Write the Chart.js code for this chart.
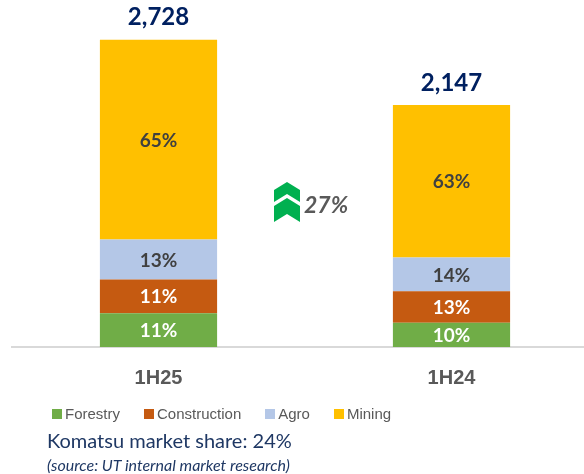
<!DOCTYPE html>
<html>
<head>
<meta charset="utf-8">
<script src="https://cdn.jsdelivr.net/npm/chart.js@4.4.1/dist/chart.umd.min.js"></script>
<style>
  html, body { margin:0; padding:0; background:#fff; }
  body { width:584px; height:474px; overflow:hidden; position:relative; }
  #wrap { position:absolute; left:0; top:0; width:600px; height:410px; }
  #legend { position:absolute; left:52px; top:405px; display:flex; gap:24px;
    font-family:"Liberation Sans", Arial, sans-serif; font-size:15px; color:#595959; }
  #legend .item { display:flex; align-items:center; }
  #legend .sw { width:10px; height:10px; margin-right:3px; }
  #share { position:absolute; left:47px; top:428px; font-family:Lato, "Open Sans", sans-serif;
    font-size:20px; color:#1F3864; white-space:nowrap; }
  #source { position:absolute; left:47px; top:455px; font-family:Lato, "Open Sans", sans-serif;
    font-style:italic; font-size:16px; color:#1F3864; white-space:nowrap; }
</style>
</head>
<body>
<div id="wrap"><canvas id="c" width="600" height="410"></canvas></div>
<div id="legend"></div>
<div id="share">Komatsu market share: 24%</div>
<div id="source">(source: UT internal market research)</div>
<script>
/* market chart */
const periods = ["1H25", "1H24"];
const segments = ["Forestry", "Construction", "Agro", "Mining"];
const forestry = [300, 215];
const construction = [300, 279];
const agro = [355, 301];
const mining = [1773, 1352];
const segColors = ["#70AD47", "#C55A11", "#B4C7E7", "#FFC000"];
const labelColors = ["#FFFFFF", "#FFFFFF", "#404040", "#404040"];
const growthLabel = "27%";

const series = [forestry, construction, agro, mining];
const totals = periods.map((p, i) => series.reduce((s, d) => s + d[i], 0));

// legend
const legendEl = document.getElementById("legend");
segments.forEach((s, i) => {
  const it = document.createElement("div");
  it.className = "item";
  it.innerHTML = `<span class="sw" style="background:${segColors[i]}"></span><span>${s}</span>`;
  legendEl.appendChild(it);
});

const labelsPlugin = {
  id: "segLabels",
  afterDatasetsDraw(chart){
    const ctx = chart.ctx;
    ctx.save();
    ctx.textAlign = "center";
    ctx.textBaseline = "middle";
    chart.data.datasets.forEach((ds, di) => {
      const meta = chart.getDatasetMeta(di);
      meta.data.forEach((bar, i) => {
        const pct = Math.round(ds.data[i] / totals[i] * 100) + "%";
        ctx.font = "bold 19px Lato, 'Open Sans', sans-serif";
        ctx.fillStyle = labelColors[di];
        ctx.fillText(pct, bar.x, (bar.y + bar.base) / 2 + 1);
      });
    });
    // totals
    const top = chart.getDatasetMeta(chart.data.datasets.length - 1);
    top.data.forEach((bar, i) => {
      ctx.font = "bold 24px Lato, 'Open Sans', sans-serif";
      ctx.fillStyle = "#002060";
      ctx.fillText(totals[i].toLocaleString("en-US"), bar.x, bar.y - 22);
    });
    // category captions
    const xs = chart.scales.x;
    ctx.font = "bold 20px 'Liberation Sans', Arial, sans-serif";
    ctx.fillStyle = "#595959";
    periods.forEach((p, i) => {
      ctx.fillText(p, xs.getPixelForValue(i), chart.chartArea.bottom + 31);
    });
    ctx.restore();
  }
};

const arrowPlugin = {
  id: "growthArrow",
  afterDraw(chart){
    const ctx = chart.ctx;
    const cx = (chart.scales.x.getPixelForValue(0) + chart.scales.x.getPixelForValue(1)) / 2 - 18;
    const y0 = 182;
    ctx.save();
    ctx.fillStyle = "#00B050";
    const chev = (t, h) => {
      ctx.beginPath();
      ctx.moveTo(cx, t);
      ctx.lineTo(cx + 13, t + 8);
      ctx.lineTo(cx + 13, t + 8 + h);
      ctx.lineTo(cx, t + h);
      ctx.lineTo(cx - 13, t + 8 + h);
      ctx.lineTo(cx - 13, t + 8);
      ctx.closePath();
      ctx.fill();
    };
    chev(y0, 12);
    chev(y0 + 16, 16);
    ctx.font = "italic bold 23px Lato, 'Open Sans', sans-serif";
    ctx.fillStyle = "#595959";
    ctx.textAlign = "left";
    ctx.textBaseline = "middle";
    ctx.fillText(growthLabel, cx + 17, 206);
    ctx.restore();
  }
};

new Chart(document.getElementById("c").getContext("2d"), {
  type: "bar",
  data: {
    labels: periods,
    datasets: segments.map((s, i) => ({
      label: s,
      data: series[i],
      backgroundColor: segColors[i],
      borderWidth: 0,
      barPercentage: 0.8,
      categoryPercentage: 0.5
    }))
  },
  options: {
    responsive: false,
    animation: false,
    devicePixelRatio: 1,
    layout: { padding: { top: 9, left: 12, right: 2, bottom: 55 } },
    plugins: { legend: { display: false }, tooltip: { enabled: false } },
    scales: {
      x: {
        stacked: true,
        grid: { display: false },
        border: { color: "#D9D9D9", width: 2 },
        ticks: { display: false }
      },
      y: { stacked: true, display: false, min: 0, max: 3000 }
    }
  },
  plugins: [labelsPlugin, arrowPlugin]
});
</script>
</body>
</html>
